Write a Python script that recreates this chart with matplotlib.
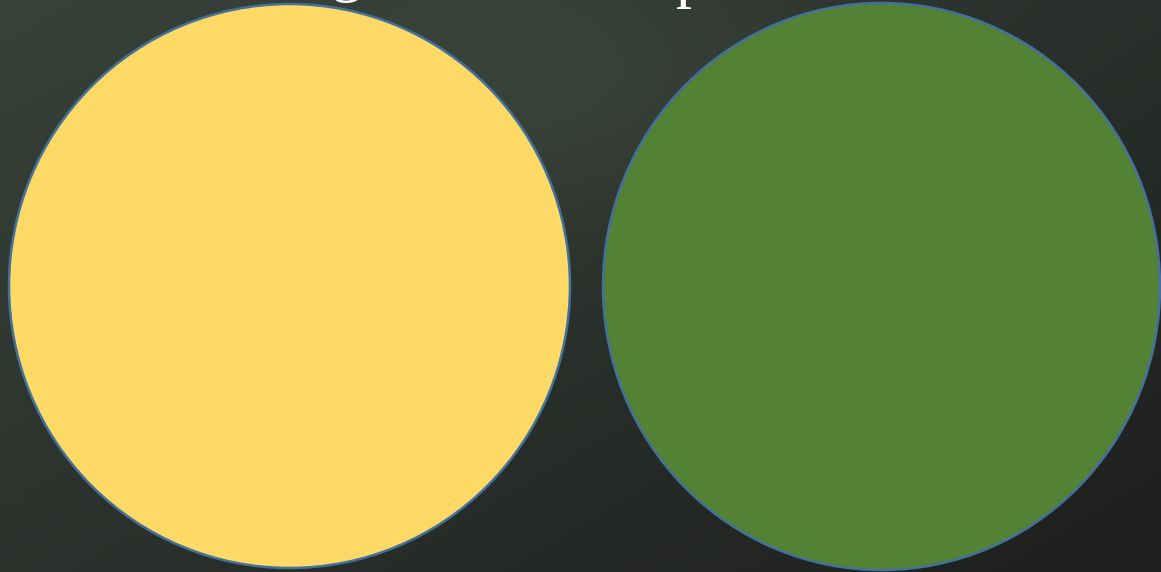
import numpy as np
import matplotlib
matplotlib.use("Agg")
import matplotlib.pyplot as plt
from matplotlib.patches import Ellipse

W, H = 1161, 572

# Shapes (pixel units): label, center x, center y, width, height, fill colour
shape_labels = ["yellow", "green"]
shape_cx = [289.5, 881.5]
shape_cy = [286.0, 286.5]
shape_w = [561.0, 557.0]
shape_h = [564.0, 567.0]
shape_colors = ["#FFD966", "#548235"]
edge_color = "#41719C"

# Partially visible title glyphs: glyph, x, baseline y
title_glyphs = ["g", "p"]
title_x = [346, 692]
title_base = [-11, -5]

fig = plt.figure(figsize=(W / 100, H / 100), dpi=100)
ax = fig.add_axes([0, 0, 1, 1])
ax.set_xlim(0, W)
ax.set_ylim(H, 0)
ax.axis("off")

# chalkboard background
yy, xx = np.mgrid[0:H, 0:W]
t = (xx / W * 0.55 + yy / H * 0.45)
top = np.array([55, 66, 57]) / 255
bot = np.array([30, 31, 30]) / 255
bg = top[None, None, :] * (1 - t[..., None]) + bot[None, None, :] * t[..., None]
blob = np.exp(-(((xx - 560) / 260) ** 2 + ((yy - 90) / 140) ** 2))
bg = bg + blob[..., None] * (np.array([10, 12, 9]) / 255)
bg = np.clip(bg, 0, 1)
ax.imshow(bg, extent=(0, W, H, 0), aspect="auto", zorder=0)

for cx, cy, w, h, c in zip(shape_cx, shape_cy, shape_w, shape_h, shape_colors):
    ax.add_patch(Ellipse((cx, cy), w, h, facecolor=c, edgecolor=edge_color,
                         linewidth=1.8, zorder=2))

for g, x, b in zip(title_glyphs, title_x, title_base):
    ax.text(x, b, g, color="white", fontsize=46, family="Liberation Serif",
            ha="center", va="baseline", zorder=3, clip_on=False)

fig.savefig("out.png", dpi=100)
